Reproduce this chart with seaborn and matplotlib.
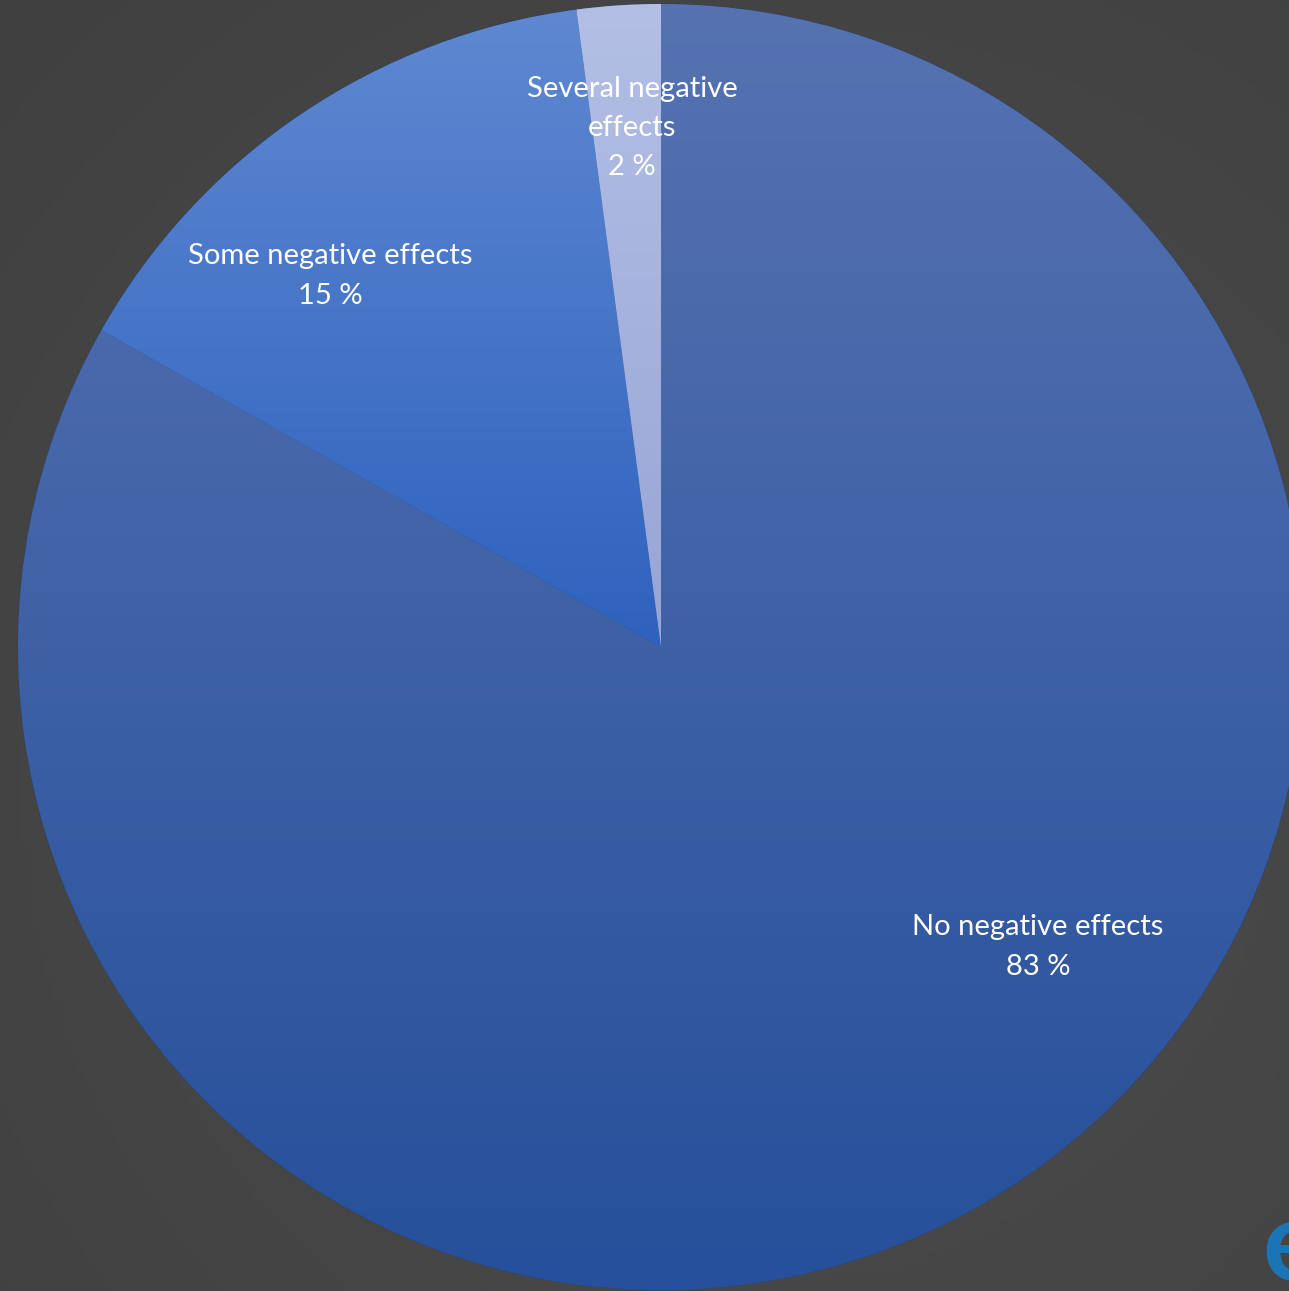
import numpy as np
import matplotlib
matplotlib.use("Agg")
import matplotlib.pyplot as plt
from matplotlib.colors import LinearSegmentedColormap
import seaborn as sns

sns.set_theme(style="white")
plt.rcParams['font.family'] = ['Lato', 'DejaVu Sans']

# ---- data ----
categories = ["No negative effects", "Some negative effects", "Several negative effects"]
values = [83.2, 14.7, 2.1]
pct_labels = ["83 %", "15 %", "2 %"]

# gradient colours (top, bottom) per slice
top_colors = ["#5672b1", "#5f88d1", "#b3bfe4"]
bottom_colors = ["#26509b", "#2e62be", "#97a5d6"]

W, H = 1289, 1291
fig = plt.figure(figsize=(W / 100, H / 100), dpi=100)

# background gradient
bg = fig.add_axes([0, 0, 1, 1], zorder=0)
yy, xx = np.mgrid[0:1:200j, 0:1:200j]
d = np.sqrt((xx - 0.6) ** 2 + (yy - 0.6) ** 2)
bgcmap = LinearSegmentedColormap.from_list("bg", ["#4d4d4d", "#404040"])
bg.imshow(d, cmap=bgcmap, extent=(0, 1, 0, 1), aspect="auto", origin="upper")
bg.set_axis_off()

ax = fig.add_axes([0, 0, 1, 1], zorder=1)
ax.patch.set_alpha(0)
cx, cy, r = 661, H - 647, 643

wedges, _ = ax.pie(values, startangle=90, counterclock=False,
                   center=(cx, cy), radius=r, colors=bottom_colors,
                   wedgeprops=dict(edgecolor=(0.15, 0.25, 0.45, 0.5), linewidth=0.8))

grad = np.linspace(0, 1, 256).reshape(-1, 1)
for w, tc, bc in zip(wedges, top_colors, bottom_colors):
    ext = w.get_path().get_extents()
    cmap = LinearSegmentedColormap.from_list("g", [tc, bc])
    im = ax.imshow(grad, cmap=cmap, extent=(ext.x0, ext.x1, ext.y0, ext.y1),
                   aspect="auto", origin="upper", zorder=1.5)
    im.set_clip_path(w)

# labels
label_pos = [(1038, 947), (330, 276), (632, 128)]
for cat, pct, (lx, ly) in zip(categories, pct_labels, label_pos):
    if cat.startswith("Several"):
        txt = "Several negative\neffects\n" + pct
    else:
        txt = cat + "\n" + pct
    ax.text(lx, H - ly, txt, ha="center", va="center", color="white",
            fontsize=21, linespacing=1.63, zorder=3)

# logo fragment (cut by the right edge, as in the reference)
ax.text(1262, H - 1280, "e", color="#1b75b5", fontsize=80, fontweight="bold",
        ha="left", va="baseline", zorder=3, clip_on=False)

ax.set_xlim(0, W)
ax.set_ylim(0, H)
ax.set_aspect("equal")
ax.set_axis_off()

fig.savefig("out.png", dpi=100)
